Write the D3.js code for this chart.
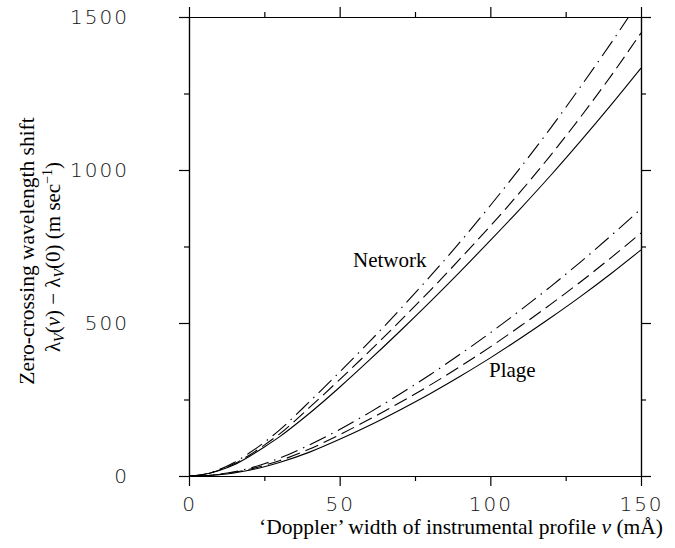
<!DOCTYPE html>
<html>
<head>
<meta charset="utf-8">
<script src="https://cdn.jsdelivr.net/npm/d3@7"></script>
<style>
  body { margin: 0; background: #fff; }
  .tick text { font-family: 'DejaVu Sans', sans-serif; font-weight: 200; font-size: 20px; letter-spacing: 2px; fill: #111; }
  .axis path, .axis line { stroke: #000; stroke-width: 1.2; }
  .serif { font-family: 'Liberation Serif', 'Times New Roman', serif; fill: #000; }
</style>
</head>
<body>
<svg id="chart" width="675" height="548"></svg>
<script>
// Doppler width v (mÅ)
const widths = [0, 5, 10, 15, 20, 25, 30, 40, 50, 60, 70, 80, 90, 100, 110, 120, 130, 140, 150]

// zero-crossing shift (m/s)
const networkSolid   = [0, 5, 18, 37, 64, 95, 128, 205, 290, 380, 473, 569, 668, 770, 874, 982, 1095, 1212, 1333]
const networkDashed  = [0, 5, 19, 40, 68, 101, 137, 224, 315, 409, 506, 606, 710, 817, 929, 1048, 1174, 1307, 1448]
const networkDashDot = [0, 6, 21, 44, 75, 110, 150, 243, 340, 440, 544, 652, 765, 884, 1008, 1137, 1273, 1414, 1561]
const plageSolid     = [0, 1, 4, 10, 19, 30, 44, 78, 120, 166, 216, 269, 326, 386, 450, 517, 587, 661, 739]
const plageDashed    = [0, 1, 5, 12, 22, 35, 50, 88, 135, 186, 240, 297, 358, 422, 490, 561, 635, 713, 794]
const plageDashDot   = [0, 1, 6, 14, 25, 40, 58, 102, 152, 208, 268, 331, 398, 468, 542, 619, 700, 785, 873]

const xMajor = [0, 50, 100, 150]
const xMinor = [25, 75, 125]
const yMajor = [0, 500, 1000, 1500]
const yMinor = [250, 750, 1250]

const series = [
    { values: networkSolid, dash: null },
    { values: networkDashed, dash: '14,6' },
    { values: networkDashDot, dash: '18,6,1.5,6' },
    { values: plageSolid, dash: null },
    { values: plageDashed, dash: '14,6' },
    { values: plageDashDot, dash: '18,6,1.5,6' }
]

const svg = d3.select('#chart')
const x = d3.scaleLinear().domain([0, 150]).range([189, 641])
const y = d3.scaleLinear().domain([0, 1500]).range([476, 17])
const fmt = d3.format('d')

// axes: major + minor on all four sides, ticks pointing out
const addAxis = (axis, transform) =>
    svg.append('g').attr('class', 'axis').attr('transform', transform).call(axis)

addAxis(d3.axisBottom(x).tickValues(xMajor).tickSize(10).tickSizeOuter(0).tickPadding(11).tickFormat(fmt), `translate(0,${y(0)})`)
addAxis(d3.axisBottom(x).tickValues(xMinor).tickSize(5).tickSizeOuter(0).tickFormat(''), `translate(0,${y(0)})`)
addAxis(d3.axisTop(x).tickValues(xMajor).tickSize(10).tickSizeOuter(0).tickFormat(''), `translate(0,${y(1500)})`)
addAxis(d3.axisTop(x).tickValues(xMinor).tickSize(5).tickSizeOuter(0).tickFormat(''), `translate(0,${y(1500)})`)
addAxis(d3.axisLeft(y).tickValues(yMajor).tickSize(10).tickSizeOuter(0).tickPadding(50).tickFormat(fmt), `translate(${x(0)},0)`)
addAxis(d3.axisLeft(y).tickValues(yMinor).tickSize(5).tickSizeOuter(0).tickFormat(''), `translate(${x(0)},0)`)
addAxis(d3.axisRight(y).tickValues(yMajor).tickSize(10).tickSizeOuter(0).tickFormat(''), `translate(${x(150)},0)`)
addAxis(d3.axisRight(y).tickValues(yMinor).tickSize(5).tickSizeOuter(0).tickFormat(''), `translate(${x(150)},0)`)

svg.selectAll('.tick text').attr('fill', '#111')

svg.append('clipPath').attr('id', 'plot')
    .append('rect')
    .attr('x', x(0)).attr('y', y(1500))
    .attr('width', x(150) - x(0)).attr('height', y(0) - y(1500))

const line = d3.line()
    .x((d, i) => x(widths[i]))
    .y(d => y(d))
    .curve(d3.curveMonotoneX)

svg.append('g').attr('clip-path', 'url(#plot)')
    .selectAll('path').data(series)
    .enter().append('path')
    .attr('d', d => line(d.values))
    .attr('fill', 'none')
    .attr('stroke', '#000')
    .attr('stroke-width', 1.1)
    .attr('stroke-dasharray', d => d.dash)

// curve labels
svg.append('text').attr('class', 'serif').attr('x', 353).attr('y', 267)
    .attr('font-size', 21).text('Network')
svg.append('text').attr('class', 'serif').attr('x', 489).attr('y', 377)
    .attr('font-size', 21).text('Plage')

// x title
const xt = svg.append('text').attr('class', 'serif')
    .attr('x', 461).attr('y', 534).attr('text-anchor', 'middle').attr('font-size', 21.5)
xt.append('tspan').text('‘Doppler’ width of instrumental profile ')
xt.append('tspan').attr('font-style', 'italic').text('v')
xt.append('tspan').text(' (mÅ)')

// y title, two lines
svg.append('text').attr('class', 'serif')
    .attr('transform', 'translate(34,251) rotate(-90)')
    .attr('text-anchor', 'middle').attr('font-size', 21.5)
    .text('Zero-crossing wavelength shift')

const yt = svg.append('text').attr('class', 'serif')
    .attr('transform', 'translate(60,257) rotate(-90)')
    .attr('text-anchor', 'middle').attr('font-size', 21)
yt.append('tspan').text('λ')
yt.append('tspan').attr('font-size', 14).attr('font-style', 'italic').attr('dy', 4).text('V')
yt.append('tspan').attr('dy', -4).text('(')
yt.append('tspan').attr('font-style', 'italic').text('v')
yt.append('tspan').text(') − λ')
yt.append('tspan').attr('font-size', 14).attr('font-style', 'italic').attr('dy', 4).text('V')
yt.append('tspan').attr('dy', -4).text('(0) (m sec')
yt.append('tspan').attr('font-size', 14).attr('dy', -8).text('−1')
yt.append('tspan').attr('dy', 8).text(')')
</script>
</body>
</html>
